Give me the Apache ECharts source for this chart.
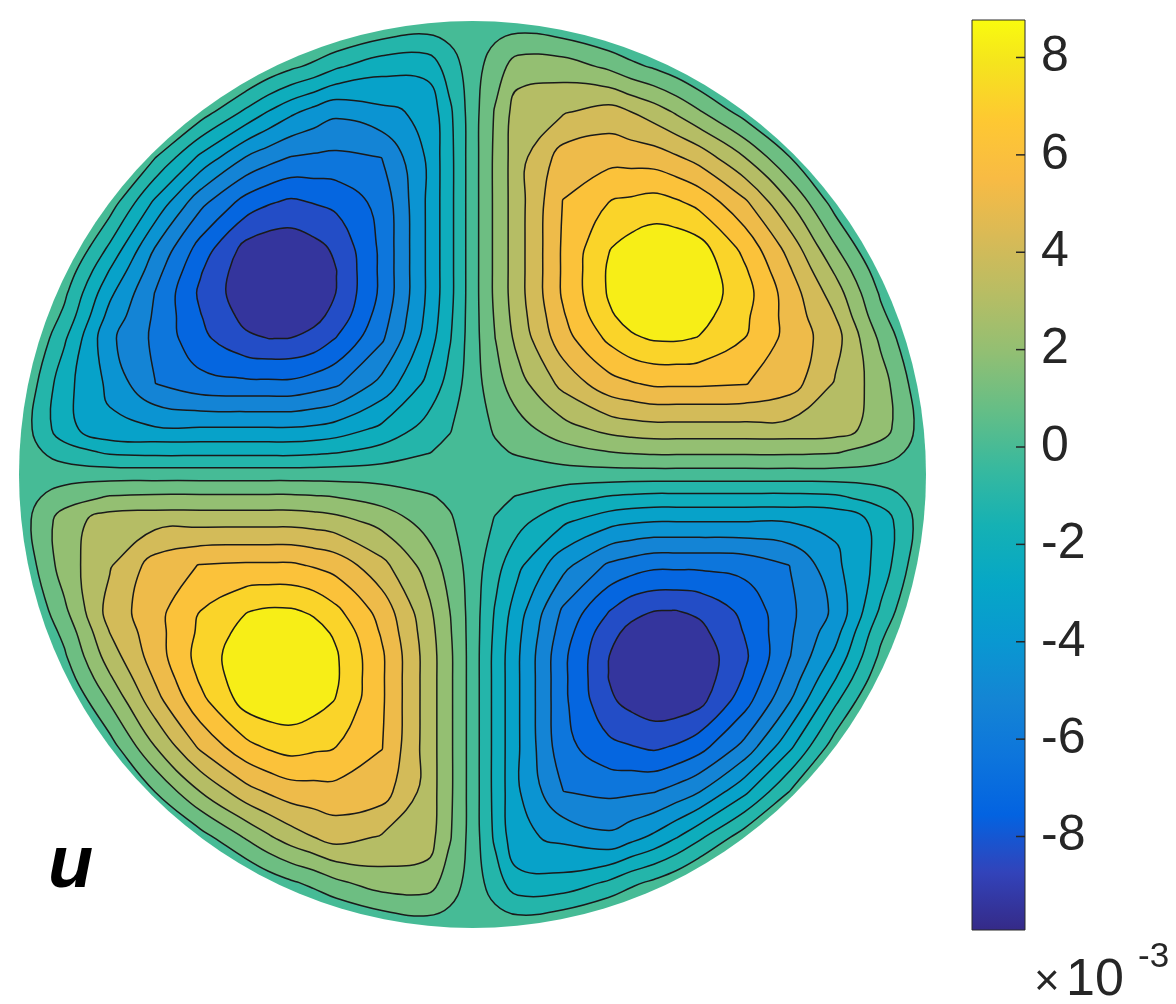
<!DOCTYPE html>
<html>
<head>
<meta charset="utf-8">
<script src="https://cdn.jsdelivr.net/npm/echarts@6/dist/echarts.min.js"></script>
<style>
html,body{margin:0;padding:0;background:#ffffff;}
#chart{width:1176px;height:1004px;}
</style>
</head>
<body>
<div id="chart"></div>
<script>
// ---------------- data (values in units of 1e-3) ----------------
// node offsets from the disk centre (same along x and y); the two axes carry u = 0
const nodeOffsets = [0.05,0.1,0.2,0.3,0.35,0.4,0.45,0.5,0.6,0.7,0.8,0.9,1];
const axisValue = 0;
const n = null; // node outside the disk
// each quadrant: rows = |y| in nodeOffsets order, columns = |x| in nodeOffsets order
const uTopRight = [
 [0.32,0.56,1.08,1.50,1.62,1.71,1.71,1.71,1.71,1.71,1.60,0.98,n],
 [0.56,1.08,2.12,2.85,3.06,3.16,3.16,3.16,3.16,3.16,3.06,2.02,n],
 [1.08,2.12,3.89,5.24,5.55,5.81,5.81,5.81,5.70,5.08,3.47,2.02,n],
 [1.50,2.85,5.24,6.90,7.57,7.83,7.86,7.67,6.69,5.29,3.99,1.29,n],
 [1.62,3.06,5.55,7.57,8.13,8.41,8.41,8.14,6.90,5.24,3.57,0.72,n],
 [1.71,3.16,5.81,7.83,8.41,8.69,8.69,8.43,7.10,5.13,3.06,0.32,n],
 [1.71,3.16,5.81,7.86,8.41,8.69,8.70,8.43,6.84,4.72,2.38,n,n],
 [1.71,3.16,5.81,7.67,8.14,8.43,8.43,8.14,6.38,4.20,1.60,n,n],
 [1.71,3.16,5.70,6.69,6.90,7.10,6.84,6.38,4.82,2.54,0,n,n],
 [1.71,3.16,5.08,5.29,5.24,5.13,4.72,4.20,2.54,0.46,n,n,n],
 [1.60,3.06,3.47,3.99,3.57,3.06,2.38,1.60,0,n,n,n,n],
 [0.98,2.02,2.02,1.29,0.72,0.32,n,n,n,n,n,n,n],
 [n,n,n,n,n,n,n,n,n,n,n,n,n]
];
const uTopLeft = [
 [-0.36,-0.63,-1.22,-1.70,-1.83,-1.93,-1.93,-1.93,-1.93,-1.93,-1.81,-1.11,n],
 [-0.63,-1.22,-2.40,-3.22,-3.46,-3.57,-3.57,-3.57,-3.57,-3.57,-3.46,-2.28,n],
 [-1.22,-2.40,-4.40,-5.93,-6.28,-6.57,-6.57,-6.57,-6.45,-5.75,-3.93,-2.28,n],
 [-1.70,-3.22,-5.93,-7.80,-8.56,-8.86,-8.89,-8.68,-7.57,-5.98,-4.51,-1.46,n],
 [-1.83,-3.46,-6.28,-8.56,-9.20,-9.51,-9.51,-9.21,-7.80,-5.92,-4.04,-0.81,n],
 [-1.93,-3.57,-6.57,-8.86,-9.51,-9.83,-9.83,-9.54,-8.03,-5.80,-3.46,-0.36,n],
 [-1.93,-3.57,-6.57,-8.89,-9.51,-9.83,-9.84,-9.54,-7.74,-5.34,-2.69,n,n],
 [-1.93,-3.57,-6.57,-8.68,-9.21,-9.54,-9.54,-9.21,-7.22,-4.75,-1.81,n,n],
 [-1.93,-3.57,-6.45,-7.57,-7.80,-8.03,-7.74,-7.22,-5.45,-2.87,0,n,n],
 [-1.93,-3.57,-5.75,-5.98,-5.92,-5.80,-5.34,-4.75,-2.87,-0.52,n,n,n],
 [-1.81,-3.46,-3.93,-4.51,-4.04,-3.46,-2.69,-1.81,0,n,n,n,n],
 [-1.11,-2.28,-2.28,-1.46,-0.81,-0.36,n,n,n,n,n,n,n],
 [n,n,n,n,n,n,n,n,n,n,n,n,n]
];
const uBottomLeft = [
 [0.32,0.56,1.08,1.50,1.62,1.71,1.71,1.71,1.71,1.71,1.60,0.98,n],
 [0.56,1.08,2.12,2.85,3.06,3.16,3.16,3.16,3.16,3.16,3.06,2.02,n],
 [1.08,2.12,3.89,5.24,5.55,5.81,5.81,5.81,5.70,5.08,3.47,2.02,n],
 [1.50,2.85,5.24,6.90,7.57,7.83,7.86,7.67,6.69,5.29,3.99,1.29,n],
 [1.62,3.06,5.55,7.57,8.13,8.41,8.41,8.14,6.90,5.24,3.57,0.72,n],
 [1.71,3.16,5.81,7.83,8.41,8.69,8.69,8.43,7.10,5.13,3.06,0.32,n],
 [1.71,3.16,5.81,7.86,8.41,8.69,8.70,8.43,6.84,4.72,2.38,n,n],
 [1.71,3.16,5.81,7.67,8.14,8.43,8.43,8.14,6.38,4.20,1.60,n,n],
 [1.71,3.16,5.70,6.69,6.90,7.10,6.84,6.38,4.82,2.54,0,n,n],
 [1.71,3.16,5.08,5.29,5.24,5.13,4.72,4.20,2.54,0.46,n,n,n],
 [1.60,3.06,3.47,3.99,3.57,3.06,2.38,1.60,0,n,n,n,n],
 [0.98,2.02,2.02,1.29,0.72,0.32,n,n,n,n,n,n,n],
 [n,n,n,n,n,n,n,n,n,n,n,n,n]
];
const uBottomRight = [
 [-0.36,-0.63,-1.22,-1.70,-1.83,-1.93,-1.93,-1.93,-1.93,-1.93,-1.81,-1.11,n],
 [-0.63,-1.22,-2.40,-3.22,-3.46,-3.57,-3.57,-3.57,-3.57,-3.57,-3.46,-2.28,n],
 [-1.22,-2.40,-4.40,-5.93,-6.28,-6.57,-6.57,-6.57,-6.45,-5.75,-3.93,-2.28,n],
 [-1.70,-3.22,-5.93,-7.80,-8.56,-8.86,-8.89,-8.68,-7.57,-5.98,-4.51,-1.46,n],
 [-1.83,-3.46,-6.28,-8.56,-9.20,-9.51,-9.51,-9.21,-7.80,-5.92,-4.04,-0.81,n],
 [-1.93,-3.57,-6.57,-8.86,-9.51,-9.83,-9.83,-9.54,-8.03,-5.80,-3.46,-0.36,n],
 [-1.93,-3.57,-6.57,-8.89,-9.51,-9.83,-9.84,-9.54,-7.74,-5.34,-2.69,n,n],
 [-1.93,-3.57,-6.57,-8.68,-9.21,-9.54,-9.54,-9.21,-7.22,-4.75,-1.81,n,n],
 [-1.93,-3.57,-6.45,-7.57,-7.80,-8.03,-7.74,-7.22,-5.45,-2.87,0,n,n],
 [-1.93,-3.57,-5.75,-5.98,-5.92,-5.80,-5.34,-4.75,-2.87,-0.52,n,n,n],
 [-1.81,-3.46,-3.93,-4.51,-4.04,-3.46,-2.69,-1.81,0,n,n,n,n],
 [-1.11,-2.28,-2.28,-1.46,-0.81,-0.36,n,n,n,n,n,n,n],
 [n,n,n,n,n,n,n,n,n,n,n,n,n]
];
// contour levels (17, evenly spaced between the data extremes)
const contourLevels = [-8.882,-7.843,-6.805,-5.767,-4.728,-3.690,-2.652,-1.613,-0.575,0.463,1.502,2.540,3.578,4.617,5.655,6.693,7.732];
// colour-bar range and ticks
const cbMin = -9.92;
const cbMax = 8.77;
const cbTicks = [-8,-6,-4,-2,0,2,4,6,8];
const fieldLabel = 'u';
const exponentTimes = '×';
const exponentBase = '10';
const exponentPower = '-3';

// ---------------- styling: parula colormap ----------------
const parulaStops = [
 [0,'#352a87'],[0.0635,'#3243ba'],[0.127,'#0363e1'],[0.1905,'#0d75dc'],[0.254,'#1485d4'],
 [0.3175,'#0998d1'],[0.381,'#06a7c6'],[0.4444,'#15b1b4'],[0.5079,'#38b99e'],[0.5714,'#65be86'],
 [0.6349,'#92bf73'],[0.6984,'#b7bd64'],[0.7619,'#d9ba56'],[0.8254,'#f8bb44'],[0.8889,'#fec832'],
 [0.9524,'#f5e41d'],[1,'#f9fb0e']
];
function hexToRgb(h){return [parseInt(h.substr(1,2),16),parseInt(h.substr(3,2),16),parseInt(h.substr(5,2),16)];}
function colorAt(v){
  let t=(v-cbMin)/(cbMax-cbMin); t=Math.max(0,Math.min(1,t));
  for(let k=0;k<parulaStops.length-1;k++){
    const a=parulaStops[k], b=parulaStops[k+1];
    if(t<=b[0]){
      const f=(t-a[0])/(b[0]-a[0]); const ca=hexToRgb(a[1]), cb=hexToRgb(b[1]);
      return 'rgb('+ca.map((c,i)=>Math.round(c+(cb[i]-c)*f)).join(',')+')';
    }
  }
  return parulaStops[parulaStops.length-1][1];
}

// ---------------- assemble the grid from the four quadrant tables ----------------
const gridX = nodeOffsets.slice().reverse().map(v=>-v).concat([0], nodeOffsets);
const gridY = gridX.slice();
const nX=gridX.length, nY=gridY.length, mid=nodeOffsets.length;
function raw(i,j){
  if(i===mid||j===mid) return axisValue;
  const qi=i>mid?i-mid-1:mid-1-i, qj=j>mid?j-mid-1:mid-1-j;
  const tbl=j>mid?(i>mid?uTopRight:uTopLeft):(i>mid?uBottomRight:uBottomLeft);
  return tbl[qj][qi];
}
function val(i,j){const v=raw(i,j); return v==null?0:v;}
function isOut(i,j){return raw(i,j)==null;}

// ---------------- marching squares (field vanishes on the disk rim) ----------------
function rimParam(ax,ay,bx,by){
  const dx=bx-ax, dy=by-ay, A=dx*dx+dy*dy, B=2*(ax*dx+ay*dy), C=ax*ax+ay*ay-1;
  return (-B+Math.sqrt(B*B-4*A*C))/(2*A);
}
function traceLoops(level,dir){
  const inside=(i,j)=>{ if(isOut(i,j)) return false; const v=val(i,j); return dir>0?v>=level:v<=level; };
  const pts={}, segs=[];
  function ep(key,i1,j1,i2,j2){
    if(!pts[key]){
      const x1=gridX[i1], y1=gridY[j1], x2=gridX[i2], y2=gridY[j2];
      let t;
      if(isOut(i2,j2)){ const s=rimParam(x1,y1,x2,y2); t=s*(1-level/val(i1,j1)); }
      else if(isOut(i1,j1)){ const s=rimParam(x2,y2,x1,y1); t=1-s*(1-level/val(i2,j2)); }
      else { const v1=val(i1,j1), v2=val(i2,j2); t=(level-v1)/(v2-v1); }
      pts[key]=[x1+t*(x2-x1), y1+t*(y2-y1)];
    }
    return key;
  }
  for(let i=0;i<nX-1;i++){
    for(let j=0;j<nY-1;j++){
      const ia=inside(i,j), ib=inside(i+1,j), ic=inside(i+1,j+1), id=inside(i,j+1);
      const E={};
      if(ia!==ib) E.b=ep('h'+i+'_'+j,i,j,i+1,j);
      if(ib!==ic) E.r=ep('v'+(i+1)+'_'+j,i+1,j,i+1,j+1);
      if(id!==ic) E.t=ep('h'+i+'_'+(j+1),i,j+1,i+1,j+1);
      if(ia!==id) E.l=ep('v'+i+'_'+j,i,j,i,j+1);
      const ks=Object.keys(E);
      if(ks.length===2){segs.push([E[ks[0]],E[ks[1]]]);}
      else if(ks.length===4){
        const c=(val(i,j)+val(i+1,j)+val(i+1,j+1)+val(i,j+1))/4;
        const cin=dir>0?c>=level:c<=level;
        if(cin===ia){segs.push([E.b,E.r]);segs.push([E.t,E.l]);}
        else {segs.push([E.b,E.l]);segs.push([E.r,E.t]);}
      }
    }
  }
  const adj={};
  segs.forEach((s,k)=>{(adj[s[0]]=adj[s[0]]||[]).push(k);(adj[s[1]]=adj[s[1]]||[]).push(k);});
  const used=[], loops=[];
  for(let k=0;k<segs.length;k++){
    if(used[k]) continue;
    const loop=[segs[k][0]]; let cur=k, from=segs[k][0];
    while(true){
      used[cur]=true; const s=segs[cur]; const to=s[0]===from?s[1]:s[0];
      if(to===loop[0]) break;
      loop.push(to);
      const nx=(adj[to]||[]).filter(x=>!used[x]);
      if(!nx.length) break;
      cur=nx[0]; from=to;
    }
    loops.push(loop.map(key=>pts[key]));
  }
  return loops;
}

const shapes=[];
const posLevels=contourLevels.filter(l=>l>0).sort((a,b)=>a-b);
const negLevels=contourLevels.filter(l=>l<0).sort((a,b)=>b-a);
shapes.push({kind:'disk', color: colorAt((negLevels[0]+posLevels[0])/2)});
posLevels.forEach((L,k)=>{
  const up=k+1<posLevels.length?posLevels[k+1]:cbMax;
  const col=colorAt((L+up)/2);
  traceLoops(L,1).forEach(lp=>shapes.push({kind:'loop',pts:lp,color:col}));
});
negLevels.forEach((L,k)=>{
  const lo=k+1<negLevels.length?negLevels[k+1]:cbMin;
  const col=colorAt((L+lo)/2);
  traceLoops(L,-1).forEach(lp=>shapes.push({kind:'loop',pts:lp,color:col}));
});

function renderField(params, api){
  const s=shapes[params.dataIndex];
  if(s.kind==='disk'){
    const c=api.coord([0,0]), e=api.coord([1,0]);
    return {type:'circle', shape:{cx:c[0],cy:c[1],r:e[0]-c[0]}, style:{fill:s.color}};
  }
  const px=[];
  s.pts.forEach(p=>{const q=api.coord(p); const last=px[px.length-1];
    if(!last||Math.hypot(q[0]-last[0],q[1]-last[1])>1.0) px.push(q);});
  return {type:'polygon', shape:{points:px, smooth:0.4},
    style:{fill:s.color, stroke:'#1a1a1a', lineWidth:1.5}};
}

function renderBar(params, api){
  const p0=api.coord([0,api.value(1)]), p1=api.coord([1,api.value(2)]);
  const stops=parulaStops.map(s=>({offset:s[0], color:s[1]}));
  const children=[{type:'rect', shape:{x:p0[0], y:p1[1], width:p1[0]-p0[0], height:p0[1]-p1[1]},
    style:{fill:new echarts.graphic.LinearGradient(0,1,0,0,stops), stroke:'#2b2b2b', lineWidth:1}}];
  cbTicks.forEach(v=>{
    const q=api.coord([1,v]);
    children.push({type:'line', shape:{x1:q[0]-9, y1:q[1], x2:q[0], y2:q[1]}, style:{stroke:'#262626', lineWidth:1.5}});
  });
  return {type:'group', children:children};
}

const chart=echarts.init(document.getElementById('chart'),null,{renderer:'canvas'});
chart.setOption({
  animation:false,
  backgroundColor:'#ffffff',
  grid:[
    {left:19, top:21, width:907, height:907},
    {left:972, top:20, width:53, height:910}
  ],
  xAxis:[
    {gridIndex:0, type:'value', min:-1, max:1, show:false},
    {gridIndex:1, type:'value', min:0, max:1, show:false}
  ],
  yAxis:[
    {gridIndex:0, type:'value', min:-1, max:1, show:false},
    {gridIndex:1, type:'value', min:cbMin, max:cbMax, position:'right',
     axisLine:{show:false}, splitLine:{show:false}, axisTick:{show:false},
     axisLabel:{show:true, customValues:cbTicks, fontSize:50, color:'#262626', fontFamily:'Liberation Sans', margin:16,
       formatter:v=>String(v)}}
  ],
  series:[
    {type:'custom', xAxisIndex:0, yAxisIndex:0, renderItem:renderField, silent:true,
     data:shapes.map((s,i)=>[0,0,i])},
    {type:'custom', xAxisIndex:1, yAxisIndex:1, renderItem:renderBar, silent:true,
     data:[[0,cbMin,cbMax]]}
  ],
  graphic:[
    {type:'text', left:48, top:830, style:{text:fieldLabel, font:'italic bold 74px "Liberation Sans"', fill:'#000000'}},
    {type:'text', left:1034, top:961, style:{text:exponentTimes, font:'44px "Liberation Sans"', fill:'#262626'}},
    {type:'text', left:1066, top:955, style:{text:exponentBase, font:'52px "Liberation Sans"', fill:'#262626'}},
    {type:'text', left:1138, top:940, style:{text:exponentPower, font:'35px "Liberation Sans"', fill:'#262626'}}
  ]
});
</script>
</body>
</html>
